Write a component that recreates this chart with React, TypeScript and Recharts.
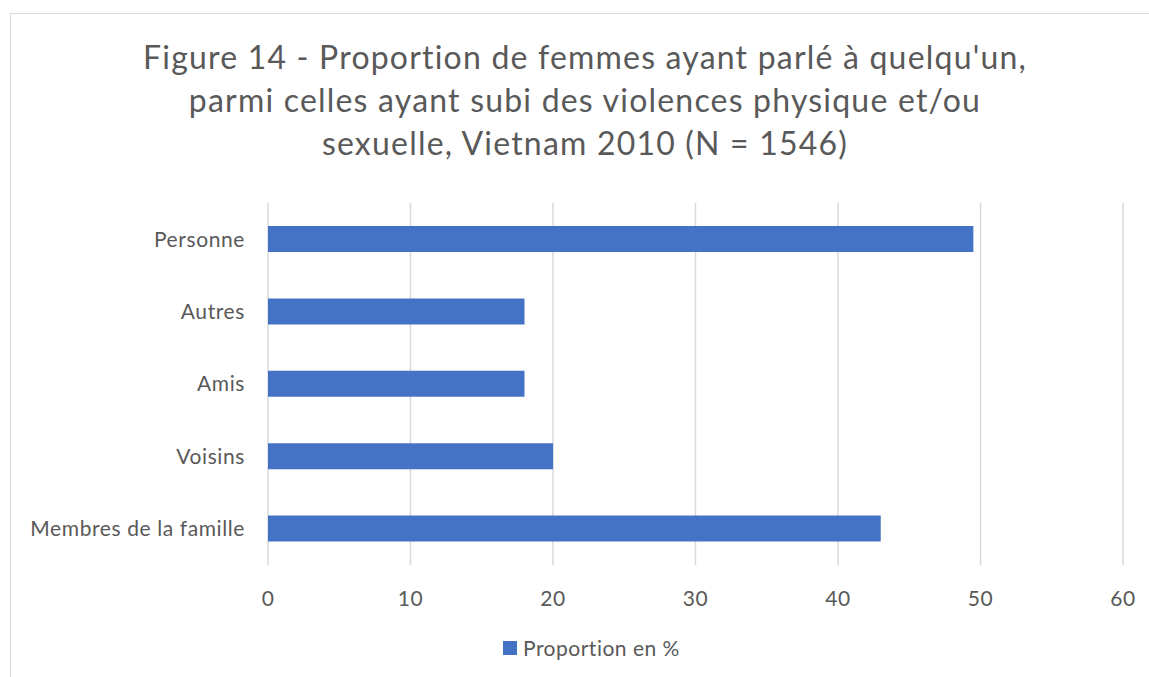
import { BarChart, Bar, XAxis, YAxis, CartesianGrid } from "recharts"

const categories = ["Personne", "Autres", "Amis", "Voisins", "Membres de la famille"]
const values = [49.5, 18, 18, 20, 43]
const xTicks = [0, 10, 20, 30, 40, 50, 60]

const FONT = "Lato, 'Open Sans', sans-serif"
const TEXT = "#595959"
const BAR = "#4472C4"

const data = categories.map((name, i) => ({ name, value: values[i] }))

export default function App() {
  return (
    <div
      style={{
        position: "absolute",
        left: 0,
        top: 0,
        width: 1149,
        height: 677,
        overflow: "hidden",
        background: "#fff",
        fontFamily: FONT,
      }}
    >
      <div
        style={{
          position: "absolute",
          left: 10,
          top: 13,
          width: 1150,
          height: 680,
          border: "1px solid #d9d9d9",
          boxSizing: "border-box",
        }}
      />
      <div
        style={{
          position: "absolute",
          left: 10,
          top: 35,
          width: 1150,
          textAlign: "center",
          fontSize: 32,
          letterSpacing: 1.2,
          lineHeight: "43px",
          color: TEXT,
        }}
      >
        Figure 14 - Proportion de femmes ayant parlé à quelqu'un,
        <br />
        parmi celles ayant subi des violences physique et/ou
        <br />
        sexuelle, Vietnam 2010 (N = 1546)
      </div>
      <div style={{ position: "absolute", left: 0, top: 0 }}>
        <BarChart
          width={1149}
          height={677}
          data={data}
          layout="vertical"
          margin={{ top: 203, right: 26, bottom: 82, left: 18 }}
          barCategoryGap={0}
        >
          <CartesianGrid horizontal={false} stroke="#d9d9d9" strokeWidth={1.5} />
          <XAxis
            type="number"
            domain={[0, 60]}
            ticks={xTicks}
            axisLine={false}
            tickLine={false}
            tickSize={0}
            tickMargin={26}
            height={30}
            tick={{ fill: TEXT, fontSize: 21, fontFamily: FONT, letterSpacing: 0.5 }}
          />
          <YAxis
            type="category"
            dataKey="name"
            width={250}
            axisLine={false}
            tickLine={false}
            tickSize={0}
            tickMargin={23}
            interval={0}
            tick={{ fill: TEXT, fontSize: 21, fontFamily: FONT, letterSpacing: 0.6 }}
          />
          <Bar dataKey="value" fill={BAR} barSize={26} isAnimationActive={false} />
        </BarChart>
      </div>
      <div
        style={{
          position: "absolute",
          left: 503,
          top: 636,
          display: "flex",
          alignItems: "center",
          fontSize: 21,
          letterSpacing: 0.5,
          color: TEXT,
          lineHeight: "24px",
        }}
      >
        <span style={{ width: 14, height: 14, background: BAR, display: "inline-block", marginRight: 6 }} />
        Proportion en %
      </div>
    </div>
  )
}
